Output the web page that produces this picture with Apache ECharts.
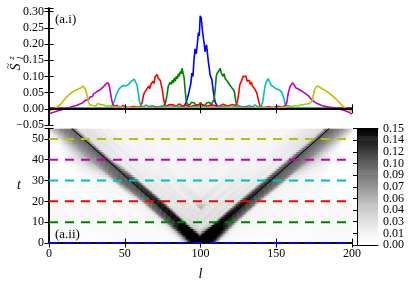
<!DOCTYPE html>
<html><head><meta charset="utf-8">
<script src="https://cdn.jsdelivr.net/npm/echarts@6/dist/echarts.min.js"></script>
<style>html,body{margin:0;padding:0;background:#fff}#c{width:415px;height:282px}</style>
</head><body><div id="c"></div>
<script>
// ---- data ----
const profileTimes = [0, 10, 20, 30, 40, 50];
const profileColors = ['#0000ff', '#008000', '#ff0000', '#00bfbf', '#bf00bf', '#bfbf00'];

const szT0 = [[0,0.001],[30,0.0],[60,0.001],[85,0.001],[88,0.004],[89.5,0.01],[90.5,0.02],[91.5,0.035],[92.3,0.05],[93,0.045],[93.7,0.08],[94.3,0.11],[95,0.1],[95.7,0.15],[96.4,0.185],[97.2,0.17],[97.9,0.2],[98.6,0.235],[99.2,0.225],[99.8,0.287],[100.5,0.28],[101.2,0.245],[101.9,0.217],[102.5,0.2],[103,0.176],[104,0.197],[104.6,0.17],[105.2,0.145],[105.8,0.125],[106.3,0.104],[107,0.11],[107.5,0.09],[108.5,0.052],[109,0.058],[109.6,0.022],[110.7,0.011],[112,0.004],[115,0.001],[140,0.0],[170,0.001],[200,0.001]];

const szT10 = [[0,0.002],[20,0.001],[40,0.002],[60,0.001],[70,0.003],[74,0.005],[76,0.011],[77,0.02],[78,0.045],[78.7,0.07],[79.4,0.065],[80,0.082],[80.7,0.075],[81.4,0.088],[82,0.08],[82.7,0.095],[83.4,0.085],[84,0.1],[84.7,0.093],[85.4,0.108],[86,0.1],[86.7,0.115],[87.3,0.108],[87.8,0.125],[88.5,0.11],[89.2,0.095],[89.8,0.06],[90.5,0.028],[91.2,0.015],[92,0.018],[93,0.012],[94,0.02],[95,0.014],[96,0.018],[97,0.01],[98,0.015],[99,0.012],[100,0.02],[101,0.012],[102,0.016],[103,0.01],[104,0.018],[105,0.012],[106,0.02],[107,0.012],[108,0.015],[109,0.03],[109.7,0.06],[110.4,0.1],[111,0.11],[111.7,0.105],[112.3,0.118],[113,0.125],[113.6,0.112],[114.2,0.115],[114.9,0.1],[115.6,0.108],[116.3,0.093],[117,0.098],[117.7,0.085],[118.4,0.09],[119.1,0.075],[119.8,0.08],[120.5,0.066],[121.2,0.07],[121.9,0.058],[122.5,0.05],[123.2,0.025],[124,0.012],[125,0.006],[127,0.004],[130,0.003],[150,0.002],[170,0.001],[200,0.002]];

const szT20 = [[0,0.002],[30,0.001],[50,0.002],[57,0.003],[59,0.005],[60.5,0.008],[61.5,0.02],[62.3,0.04],[63,0.05],[63.7,0.045],[64.4,0.06],[65.1,0.055],[65.8,0.07],[66.5,0.062],[67.2,0.075],[67.9,0.07],[68.6,0.085],[69.3,0.078],[70,0.098],[70.7,0.092],[71.3,0.106],[72,0.095],[72.7,0.1],[73.4,0.088],[74.1,0.085],[74.8,0.06],[75.5,0.035],[76.3,0.015],[77.5,0.008],[79,0.012],[80,0.006],[82,0.012],[84,0.007],[86,0.015],[88,0.008],[90,0.012],[93,0.006],[96,0.01],[100,0.014],[104,0.008],[108,0.012],[112,0.007],[115,0.014],[118,0.008],[121,0.013],[123.5,0.01],[124.5,0.025],[125.3,0.05],[126,0.075],[126.7,0.07],[127.4,0.09],[128.1,0.1],[128.7,0.106],[129.4,0.095],[130.1,0.1],[130.8,0.085],[131.5,0.08],[132.2,0.088],[132.9,0.075],[133.6,0.082],[134.3,0.07],[135,0.074],[135.7,0.062],[136.4,0.066],[137.1,0.05],[137.8,0.045],[138.5,0.022],[139.3,0.008],[141,0.004],[145,0.003],[160,0.002],[180,0.001],[200,0.002]];

const szT30 = [[0,0.0],[15,0.001],[30,0.002],[38,0.003],[41,0.005],[42.3,0.01],[43.3,0.025],[44.2,0.04],[45,0.05],[45.7,0.045],[46.4,0.062],[47.1,0.058],[47.8,0.068],[48.5,0.062],[49.2,0.072],[49.9,0.066],[50.6,0.07],[51.3,0.064],[52,0.074],[52.7,0.068],[53.4,0.08],[54.1,0.074],[54.8,0.086],[55.5,0.08],[56.2,0.092],[56.9,0.085],[57.6,0.078],[58.3,0.07],[59,0.045],[59.8,0.02],[60.6,0.01],[62,0.006],[64,0.012],[66,0.006],[68,0.01],[71,0.005],[75,0.009],[80,0.005],[85,0.008],[90,0.004],[100,0.006],[110,0.004],[115,0.008],[120,0.005],[125,0.009],[129,0.005],[132,0.01],[134,0.006],[136,0.012],[138,0.006],[140,0.01],[141,0.02],[141.8,0.045],[142.6,0.07],[143.3,0.082],[144,0.078],[144.7,0.093],[145.4,0.085],[146.1,0.082],[146.8,0.072],[147.5,0.078],[148.2,0.068],[148.9,0.072],[149.6,0.062],[150.3,0.066],[151,0.06],[151.7,0.065],[152.4,0.057],[153.1,0.06],[153.8,0.05],[154.5,0.045],[155.2,0.03],[155.9,0.012],[157,0.006],[162,0.004],[170,0.003],[180,0.002],[190,0.0],[200,-0.002]];

const szT40 = [[0,-0.015],[2,-0.012],[4,-0.009],[6,-0.006],[8,-0.004],[10,0.0],[12,0.002],[14,0.005],[16,0.008],[18,0.01],[20,0.014],[22,0.018],[23,0.022],[24,0.026],[25,0.03],[26,0.028],[27,0.036],[28,0.042],[28.7,0.038],[29.4,0.046],[30.1,0.042],[30.8,0.05],[31.5,0.046],[32.2,0.055],[32.9,0.05],[33.6,0.058],[34.3,0.054],[35,0.064],[35.7,0.06],[36.4,0.07],[37.1,0.066],[37.8,0.078],[38.5,0.072],[39.2,0.08],[39.9,0.068],[40.6,0.05],[41.3,0.03],[42,0.015],[43,0.008],[45,0.01],[47,0.005],[49,0.01],[52,0.004],[56,0.007],[60,0.003],[70,0.005],[80,0.002],[90,0.004],[100,0.003],[110,0.004],[120,0.002],[130,0.005],[140,0.003],[145,0.006],[148,0.004],[151,0.008],[154,0.005],[156,0.01],[157,0.02],[157.8,0.045],[158.6,0.06],[159.3,0.07],[160,0.066],[160.7,0.08],[161.4,0.076],[162.1,0.072],[162.8,0.065],[163.5,0.07],[164.2,0.062],[164.9,0.066],[165.6,0.058],[166.3,0.062],[167,0.054],[167.7,0.058],[168.4,0.05],[169.1,0.052],[169.8,0.045],[170.5,0.048],[171.2,0.04],[172,0.036],[173,0.03],[174,0.028],[175,0.022],[176,0.02],[177,0.016],[178,0.014],[180,0.01],[182,0.008],[184,0.006],[186,0.005],[188,0.003],[190,0.001],[192,-0.001],[194,-0.004],[196,-0.007],[198,-0.011],[200,-0.016]];

const szT50 = [[0,-0.008],[1,-0.006],[2,-0.003],[3,-0.001],[4,0.002],[5,0.004],[6,0.007],[7,0.011],[8,0.016],[9,0.021],[10,0.028],[10.7,0.026],[11.4,0.035],[12.1,0.032],[12.8,0.041],[13.5,0.038],[14.2,0.047],[14.9,0.044],[15.6,0.052],[16.3,0.048],[17,0.056],[17.7,0.052],[18.4,0.059],[19.1,0.055],[19.8,0.062],[20.5,0.058],[21.2,0.065],[21.9,0.061],[22.6,0.07],[23.3,0.066],[24,0.06],[24.7,0.05],[25.4,0.035],[26.1,0.02],[27,0.012],[28,0.015],[29,0.01],[30,0.014],[31,0.009],[32,0.016],[33,0.01],[34,0.013],[35,0.008],[36,0.012],[38,0.007],[40,0.01],[43,0.005],[46,0.007],[50,0.003],[60,0.004],[70,0.002],[80,0.003],[90,0.002],[100,0.003],[110,0.002],[120,0.003],[130,0.002],[140,0.003],[150,0.002],[155,0.005],[160,0.007],[162,0.01],[164,0.008],[166,0.012],[167,0.009],[168,0.013],[169,0.01],[170,0.015],[171,0.011],[172,0.016],[173,0.013],[173.8,0.025],[174.6,0.045],[175.4,0.06],[176.1,0.066],[176.8,0.07],[177.5,0.065],[178.2,0.068],[178.9,0.062],[179.6,0.064],[180.3,0.058],[181,0.06],[181.7,0.054],[182.4,0.056],[183.1,0.05],[183.8,0.052],[184.5,0.046],[185.2,0.047],[185.9,0.041],[186.6,0.042],[187.3,0.036],[188,0.036],[188.7,0.031],[189.4,0.031],[190.1,0.026],[191,0.022],[192,0.018],[193,0.013],[194,0.008],[195,0.004],[196,0.002],[197,-0.001],[198,-0.003],[199,-0.006],[200,-0.008]];

const coneLeft = [[100, 0], [15, 55]];
const coneRight = [[100, 0], [185, 55]];

const xTickLabels = ['0', '50', '100', '150', '200'];
const topYTickLabels = ['\u22120.05', '0.00', '0.05', '0.10', '0.15', '0.20', '0.25', '0.30'];
const botYTickLabels = ['0', '10', '20', '30', '40', '50'];
const cbTickLabels = ['0.00', '0.01', '0.03', '0.04', '0.06', '0.07', '0.09', '0.10', '0.12', '0.14', '0.15'];

// ---- derived structures ----
const profiles = [szT0, szT10, szT20, szT30, szT40, szT50];
const L_MAX = 200, T_MAX = 55, C_MAX = 0.15;
const HEAT_GAIN = 1.3, HEAT_GAMMA = 0.7; // tone of the l-t map relative to the plotted profiles
const coneCenter = coneLeft[0][0];
const coneSpeed = (coneLeft[0][0] - coneLeft[1][0]) / (coneLeft[1][1] - coneLeft[0][1]);

function sampleProfile(p, s) {
  if (s <= p[0][0]) return p[0][1];
  if (s >= p[p.length - 1][0]) return p[p.length - 1][1];
  for (let i = 1; i < p.length; i++) {
    if (p[i][0] >= s) {
      const a = p[i - 1], b = p[i];
      const f = (s - a[0]) / (b[0] - a[0]);
      return a[1] + f * (b[1] - a[1]);
    }
  }
  return 0;
}
function shiftedValue(k, x, t) {
  const side = x < coneCenter ? 1 : -1;
  let s = x + side * coneSpeed * (t - profileTimes[k]);
  if (side * (s - coneCenter) > 0) s = 2 * coneCenter - s;
  return sampleProfile(profiles[k], s);
}
function tone(v) {
  const r = Math.max(0, Math.min(1, HEAT_GAIN * v / C_MAX));
  return C_MAX * Math.pow(r, HEAT_GAMMA);
}
const heatCells = [];
for (let t = 0; t < T_MAX; t++) {
  const tc = t + 0.5;
  for (let l = 0; l < L_MAX; l++) {
    const x = l + 0.5;
    let v;
    if (tc >= profileTimes[5]) {
      v = shiftedValue(5, x, tc);
    } else {
      const k = Math.floor(tc / 10);
      const w = (tc - profileTimes[k]) / (profileTimes[k + 1] - profileTimes[k]);
      v = (1 - w) * shiftedValue(k, x, tc) + w * shiftedValue(k + 1, x, tc);
    }
    heatCells.push([l, t, tone(v)]);
  }
}
const CB_STEPS = 120;
const cbCells = [];
for (let i = 0; i < CB_STEPS; i++) {
  const v0 = i * C_MAX / CB_STEPS;
  cbCells.push([0, v0, v0 + 0.5 * C_MAX / CB_STEPS]);
}

const FONT = 'Liberation Serif';
const black = '#000';
function frameAxis(extra) {
  return Object.assign({
    type: 'value', z: 10,
    axisLine: { show: true, lineStyle: { color: black, width: 1.5 } },
    axisTick: { show: true, inside: true, length: 4.5, lineStyle: { color: black, width: 1 } },
    axisLabel: { show: false },
    splitLine: { show: false }
  }, extra);
}
function labelFmt(list, min, step) {
  return function (v) {
    const i = Math.round((v - min) / step);
    if (Math.abs(min + i * step - v) > step * 1e-3) return '';
    return list[i] !== undefined ? list[i] : '';
  };
}
const labelStyle = { show: true, color: black, fontFamily: FONT, fontSize: 12, margin: 5, showMinLabel: true, showMaxLabel: true };

const series = [];
profiles.forEach((p, i) => {
  series.push({
    type: 'line', xAxisIndex: 0, yAxisIndex: 0, data: p, showSymbol: false,
    lineStyle: { color: profileColors[i], width: 1.6 }, itemStyle: { color: profileColors[i] },
    clip: true, z: 2 + i * 0.01
  });
});
series.push({
  type: 'custom', xAxisIndex: 2, yAxisIndex: 2, data: heatCells, clip: true, z: 1,
  encode: { x: 0, y: 1 }, progressive: 0,
  renderItem: function (params, api) {
    const l = api.value(0), t = api.value(1);
    const p0 = api.coord([l, t + 1]);
    const p1 = api.coord([l + 1, t]);
    return { type: 'rect', shape: { x: p0[0], y: p0[1], width: p1[0] - p0[0] + 0.6, height: p1[1] - p0[1] + 0.6 },
      style: { fill: api.visual('color') } };
  }
});
const heatIndex = series.length - 1;
profileTimes.forEach((t, i) => {
  series.push({
    type: 'line', xAxisIndex: 2, yAxisIndex: 2, data: [[0, t], [L_MAX, t]], showSymbol: false,
    lineStyle: { color: profileColors[i], width: 2, type: [9, 7] }, clip: false, z: 11
  });
});
[coneLeft, coneRight].forEach(c => {
  series.push({
    type: 'line', xAxisIndex: 2, yAxisIndex: 2, data: c, showSymbol: false,
    lineStyle: { color: black, width: 1 }, clip: true, z: 4
  });
});
series.push({
  type: 'custom', xAxisIndex: 4, yAxisIndex: 4, data: cbCells, clip: true, z: 1,
  encode: { x: 0, y: 1 },
  renderItem: function (params, api) {
    const v0 = api.value(1);
    const p0 = api.coord([0, v0 + C_MAX / CB_STEPS]);
    const p1 = api.coord([1, v0]);
    return { type: 'rect', shape: { x: p0[0], y: p0[1], width: p1[0] - p0[0], height: p1[1] - p0[1] + 0.6 },
      style: { fill: api.visual('color') } };
  }
});
const cbIndex = series.length - 1;

const option = {
  animation: false,
  backgroundColor: '#fff',
  textStyle: { fontFamily: FONT },
  grid: [
    { left: 49, top: 8, width: 303, height: 117 },
    { left: 49, top: 128.5, width: 303, height: 116.5 },
    { left: 357, top: 128.5, width: 21, height: 116.5 }
  ],
  visualMap: [{
    type: 'continuous', show: false, min: 0, max: C_MAX, dimension: 2,
    seriesIndex: [heatIndex, cbIndex],
    inRange: { color: ['#ffffff', '#f0f0f0', '#d9d9d9', '#bdbdbd', '#969696', '#737373', '#525252', '#252525', '#000000'] }
  }],
  xAxis: [
    frameAxis({ gridIndex: 0, position: 'bottom', min: 0, max: L_MAX, interval: 50 }),
    frameAxis({ gridIndex: 0, position: 'top', min: 0, max: L_MAX, interval: 50 }),
    frameAxis({ gridIndex: 1, position: 'bottom', min: 0, max: L_MAX, interval: 50,
      axisLabel: Object.assign({}, labelStyle, { formatter: labelFmt(xTickLabels, 0, 50) }),
      name: 'l', nameLocation: 'middle', nameGap: 24,
      nameTextStyle: { fontFamily: FONT, fontStyle: 'italic', fontSize: 14, color: black } }),
    frameAxis({ gridIndex: 1, position: 'top', min: 0, max: L_MAX, interval: 50 }),
    frameAxis({ gridIndex: 2, position: 'bottom', min: 0, max: 1, axisTick: { show: false },
      axisLine: { show: true, lineStyle: { color: black, width: 1 } } }),
    frameAxis({ gridIndex: 2, position: 'top', min: 0, max: 1, axisTick: { show: false },
      axisLine: { show: true, lineStyle: { color: black, width: 1 } } })
  ],
  yAxis: [
    frameAxis({ gridIndex: 0, position: 'left', min: -0.05, max: 0.311, interval: 0.05,
      axisLabel: Object.assign({}, labelStyle, { formatter: labelFmt(topYTickLabels, -0.05, 0.05) }) }),
    frameAxis({ gridIndex: 0, position: 'right', min: -0.05, max: 0.311, interval: 0.05 }),
    frameAxis({ gridIndex: 1, position: 'left', min: 0, max: T_MAX, interval: 10,
      axisLabel: Object.assign({}, labelStyle, { formatter: labelFmt(botYTickLabels, 0, 10) }),
      name: 't', nameLocation: 'middle', nameGap: 28, nameRotate: 0,
      nameTextStyle: { fontFamily: FONT, fontStyle: 'italic', fontSize: 14, color: black } }),
    frameAxis({ gridIndex: 1, position: 'right', min: 0, max: T_MAX, interval: 10 }),
    frameAxis({ gridIndex: 2, position: 'left', min: 0, max: C_MAX, axisTick: { show: false },
      axisLine: { show: true, lineStyle: { color: black, width: 1 } } }),
    {
      type: 'category', gridIndex: 2, position: 'right', data: cbTickLabels, boundaryGap: false, z: 10,
      axisLine: { show: true, lineStyle: { color: black, width: 1 } },
      axisTick: { show: true, inside: true, length: 4, interval: 0, lineStyle: { color: black, width: 1 } },
      axisLabel: { show: true, interval: 0, color: black, fontFamily: FONT, fontSize: 12, margin: 5 },
      splitLine: { show: false }
    }
  ],
  graphic: [
    { type: 'text', left: 55, top: 13, z: 20, style: { text: '(a.i)', font: '13px "Liberation Serif"', fill: black } },
    { type: 'text', left: 55, top: 228, z: 20, style: { text: '(a.ii)', font: '13px "Liberation Serif"', fill: black } },
    { type: 'group', x: 16, y: 63, rotation: Math.PI / 2, z: 20, children: [
      { type: 'text', x: -4, y: 0, style: { text: 'S', font: 'italic 14px "Liberation Serif"', fill: black, align: 'center', verticalAlign: 'middle' } },
      { type: 'text', x: -3, y: -8, style: { text: '~', font: '11px "Liberation Serif"', fill: black, align: 'center', verticalAlign: 'middle' } },
      { type: 'text', x: 5, y: -4, style: { text: 'z', font: 'italic 9px "Liberation Serif"', fill: black, align: 'center', verticalAlign: 'middle' } },
      { type: 'text', x: 5, y: 5, style: { text: 'l', font: 'italic 9px "Liberation Serif"', fill: black, align: 'center', verticalAlign: 'middle' } }
    ] }
  ],
  series: series
};
const chart = echarts.init(document.getElementById('c'), null, { renderer: 'canvas' });
chart.setOption(option);
</script></body></html>
